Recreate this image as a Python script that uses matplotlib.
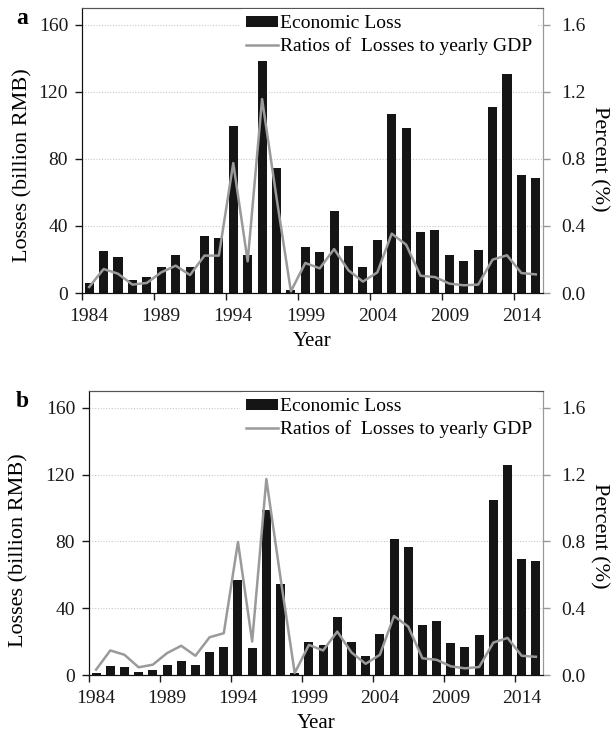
import matplotlib
matplotlib.use("Agg")
import matplotlib.pyplot as plt
from matplotlib.ticker import FixedLocator
import numpy as np

plt.rcParams['font.family'] = ['Liberation Serif', 'DejaVu Serif']

years = list(range(1984, 2016))

loss_a = [6, 25, 21.5, 8, 9.3, 15.5, 22.5, 15.5, 33.8, 32.8, 99.4, 22.9, 139.2, 74.4, 1.6,
          27.2, 24.5, 48.7, 27.8, 15.5, 31.8, 106.8, 98.4, 36.6, 37.6, 22.7, 19.1, 25.8,
          110.9, 130.6, 70.4, 68.4]
ratio_a = [0.036, 0.143, 0.115, 0.05, 0.06, 0.123, 0.163, 0.107, 0.223, 0.223, 0.775, 0.189,
           1.157, 0.57, 0.01, 0.179, 0.147, 0.262, 0.135, 0.068, 0.123, 0.354, 0.288, 0.103,
           0.095, 0.056, 0.046, 0.05, 0.199, 0.225, 0.119, 0.111]

loss_b = [1.2, 5.6, 4.8, 2.0, 2.8, 5.8, 8.1, 6.2, 13.5, 16.7, 56.7, 16.1, 98.8, 54.4, 1.4,
          19.6, 17.7, 34.5, 19.6, 11.1, 24.6, 81.3, 76.6, 30.0, 32.3, 19.2, 16.9, 23.8,
          104.8, 125.8, 69.2, 68.3]
ratio_b = [0.032, 0.147, 0.121, 0.046, 0.062, 0.131, 0.175, 0.115, 0.226, 0.25, 0.796, 0.2,
           1.173, 0.58, 0.012, 0.18, 0.147, 0.26, 0.135, 0.067, 0.121, 0.353, 0.29, 0.1,
           0.091, 0.052, 0.04, 0.048, 0.194, 0.222, 0.115, 0.109]

left_ticks = [0, 40, 80, 120, 160]
right_ticks = [0.0, 0.4, 0.8, 1.2, 1.6]
label_years = [1984, 1989, 1994, 1999, 2004, 2009, 2014]

W, H = 613, 733
fig = plt.figure(figsize=(W / 100, H / 100), dpi=100)

FS = 14
LFS = 16
BAR_C = '#151515'
LINE_C = '#9a9a9a'


def panel(rect, loss, ratio, letter, ylab_x, ylab_y, rlab_y):
    l, t, r, b = rect
    w = r - l
    ax = fig.add_axes([l / W, 1 - b / H, w / W, (b - t) / H])
    ax.bar(years, loss, width=0.63, color=BAR_C, label='Economic Loss', zorder=2)
    ax.set_xlim(1983.5, 2015.5)
    ax.set_ylim(0, 170)
    ax.set_yticks(left_ticks)
    ax.set_yticklabels([str(v) for v in left_ticks])
    ax.set_xticks(label_years)
    ax.set_xticklabels([str(y) for y in label_years])
    ax.xaxis.set_minor_locator(FixedLocator([y - 0.5 for y in label_years]))
    ax.tick_params(axis='x', which='major', length=0, pad=11, labelsize=FS, labelcolor='#1a1a1a')
    ax.tick_params(axis='x', which='minor', direction='out', length=5, width=1, color='#1a1a1a')
    ax.yaxis.grid(True, linestyle=(0, (1, 1.5)), color='#c8c8c8', linewidth=0.8, zorder=0)
    ax.set_axisbelow(True)
    ax.tick_params(axis='y', direction='out', length=5, width=1, labelsize=FS, colors='#1a1a1a', pad=5)
    ax.spines['left'].set_color('#111111')
    ax.spines['bottom'].set_color('#111111')
    ax.spines['top'].set_color('#555555')
    ax.spines['right'].set_color('#999999')
    ax.set_xlabel('Year', fontsize=FS + 1, labelpad=5)
    ax.set_ylabel('Losses (billion RMB)', fontsize=LFS)
    ax.yaxis.set_label_coords(ylab_x / w, ylab_y)

    ax2 = ax.twinx()
    ax2.plot(years, ratio, color=LINE_C, linewidth=1.8, label='Ratios of  Losses to yearly GDP', zorder=3)
    ax2.set_ylim(0, 1.7)
    ax2.set_yticks(right_ticks)
    ax2.set_yticklabels([f'{v:.1f}' for v in right_ticks])
    ax2.tick_params(axis='y', direction='out', length=5, width=1, labelsize=FS, colors='#999999',
                    labelcolor='#1a1a1a', pad=8)
    ax2.spines['right'].set_color('#999999')
    ax2.spines['top'].set_color('#555555')
    ax2.spines['left'].set_color('#111111')
    ax2.spines['bottom'].set_color('#111111')
    ax2.set_ylabel('Percent (%)', fontsize=LFS, rotation=-90, va='center')
    ax2.yaxis.set_label_coords(1 + 56 / w, rlab_y)

    h1, l1 = ax.get_legend_handles_labels()
    h2, l2 = ax2.get_legend_handles_labels()
    leg = ax2.legend(h1 + h2, l1 + l2, loc='upper left', bbox_to_anchor=((240 - l) / w, 0.995),
                     frameon=True, fontsize=FS, handlelength=1.65, handleheight=0.5,
                     handletextpad=0.12, labelspacing=0.25, borderpad=0.3, borderaxespad=0)
    leg.get_frame().set_edgecolor('none')
    leg.get_frame().set_facecolor('white')
    leg.get_frame().set_alpha(1)

    fig.text(22 / W, 1 - (t + 10) / H, letter, fontsize=FS + 3, fontweight='bold',
             ha='center', va='center')
    return ax, ax2


panel((82, 8, 543, 293), loss_a, ratio_a, 'a', -50, 0.45, 0.47)
panel((89, 391, 543, 675), loss_b, ratio_b, 'b', -61, 0.44, 0.49)

fig.savefig('out.png', dpi=100)
